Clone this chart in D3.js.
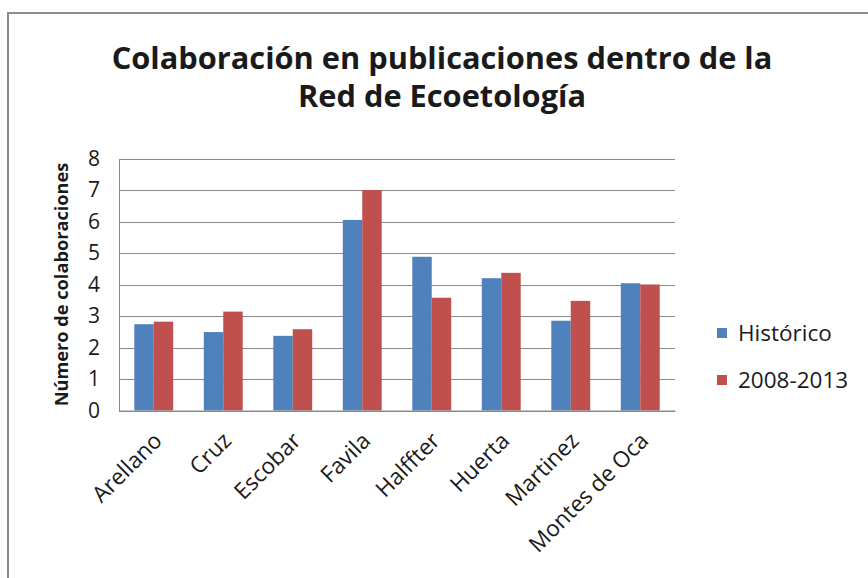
<!DOCTYPE html>
<html>
<head>
<meta charset="utf-8">
<script src="https://cdn.jsdelivr.net/npm/d3@7"></script>
<style>
  html, body { margin: 0; padding: 0; background: #fff; }
  svg { display: block; }
  text { font-family: "Open Sans", Carlito, Calibri, sans-serif; fill: #1a1a1a; }
</style>
</head>
<body>
<svg id="chart" width="868" height="578"></svg>
<script>
// Data
const categories = ["Arellano", "Cruz", "Escobar", "Favila", "Halffter", "Huerta", "Martinez", "Montes de Oca"];
const seriesNames = ["Histórico", "2008-2013"];
const historico = [2.74, 2.49, 2.37, 6.05, 4.88, 4.2, 2.85, 4.04];
const periodo2008_2013 = [2.82, 3.14, 2.58, 7.0, 3.58, 4.37, 3.48, 4.0];
const yTicks = [0, 1, 2, 3, 4, 5, 6, 7, 8];
const titleLines = ["Colaboración en publicaciones dentro de la", "Red de Ecoetología"];
const yAxisTitle = "Número de colaboraciones";

const colors = ["#4F81BD", "#C0504D"];
const seriesValues = [historico, periodo2008_2013];
const FONT = "'Open Sans', Carlito, Calibri, sans-serif";

const svg = d3.select("#chart");

// Shrink or grow a text element's font so its rendered width equals target
function fitWidth(sel, target) {
  sel.each(function () {
    const el = d3.select(this);
    const size = parseFloat(el.attr("font-size"));
    const w = this.getComputedTextLength();
    if (w > 0) el.attr("font-size", (size * target / w).toFixed(2));
  });
}

// Chart frame
svg.append("rect")
  .attr("x", 8).attr("y", 13)
  .attr("width", 880).attr("height", 600)
  .attr("fill", "#fff")
  .attr("stroke", "#8c8c8c").attr("stroke-width", 2);

// Plot area
const plot = { left: 119, right: 675, top: 158.5, bottom: 410.5 };

const x = d3.scaleBand()
  .domain(categories)
  .range([plot.left, plot.right])
  .paddingInner(0.44).paddingOuter(0.22);

const xs = d3.scaleBand()
  .domain(seriesNames)
  .range([0, x.bandwidth()]);

const y = d3.scaleLinear()
  .domain([0, 8])
  .range([plot.bottom, plot.top]);

// Gridlines
svg.append("g")
  .selectAll("line")
  .data(yTicks)
  .join("line")
  .attr("x1", plot.left).attr("x2", plot.right)
  .attr("y1", d => Math.round(y(d)) + 0.5).attr("y2", d => Math.round(y(d)) + 0.5)
  .attr("stroke", "#8a8a8a").attr("stroke-width", 1);

// Bars
const groups = svg.append("g")
  .selectAll("g")
  .data(categories)
  .join("g")
  .attr("transform", d => `translate(${x(d)},0)`);

groups.selectAll("rect")
  .data((c, i) => seriesNames.map((s, k) => ({ s, v: seriesValues[k][i], k })))
  .join("rect")
  .attr("x", d => xs(d.s))
  .attr("width", xs.bandwidth())
  .attr("y", d => y(d.v))
  .attr("height", d => y(0) - y(d.v))
  .attr("fill", d => colors[d.k]);

// Y axis
const yAxis = d3.axisLeft(y).tickValues(yTicks).tickSize(0).tickPadding(19).tickFormat(d3.format("d"));
const gy = svg.append("g").attr("transform", `translate(${plot.left},0)`).call(yAxis);
gy.select(".domain").attr("stroke", "#8a8a8a");
gy.selectAll("text").attr("font-size", 21).attr("fill", "#1a1a1a")
  .style("font-family", FONT);

// X axis
const xAxis = d3.axisBottom(x).tickSize(0).tickPadding(0);
const gx = svg.append("g").attr("transform", `translate(0,${plot.bottom})`).call(xAxis);
gx.select(".domain").attr("stroke", "#8a8a8a");
gx.selectAll("text")
  .attr("font-size", 22.5)
  .attr("fill", "#1a1a1a")
  .style("font-family", FONT)
  .attr("text-anchor", "end")
  .attr("dy", "0.35em")
  .attr("transform", "translate(4,26) rotate(-45)");

// Y axis title
svg.append("text")
  .attr("transform", `translate(68,${(plot.top + plot.bottom) / 2}) rotate(-90)`)
  .attr("text-anchor", "middle")
  .attr("font-size", 18).attr("font-weight", "bold")
  .text(yAxisTitle)
  .call(fitWidth, 244);

// Title
const title = svg.append("g")
  .selectAll("text")
  .data(titleLines)
  .join("text")
  .attr("x", 442)
  .attr("y", (d, i) => 69 + i * 38)
  .attr("text-anchor", "middle")
  .attr("font-size", 29).attr("font-weight", "bold")
  .text(d => d);
fitWidth(title.filter((d, i) => i === 0), 661);
title.filter((d, i) => i === 1).attr("font-size", title.filter((d, i) => i === 0).attr("font-size"));

// Legend
const legend = svg.append("g")
  .selectAll("g")
  .data(seriesNames)
  .join("g")
  .attr("transform", (d, i) => `translate(717,${333 + i * 47})`);
legend.append("rect")
  .attr("x", 0).attr("y", -5).attr("width", 10).attr("height", 10)
  .attr("fill", (d, i) => colors[i]);
legend.append("text")
  .attr("x", 21).attr("y", 0).attr("dy", "0.35em")
  .attr("font-size", 22.5)
  .text(d => d);
</script>
</body>
</html>
